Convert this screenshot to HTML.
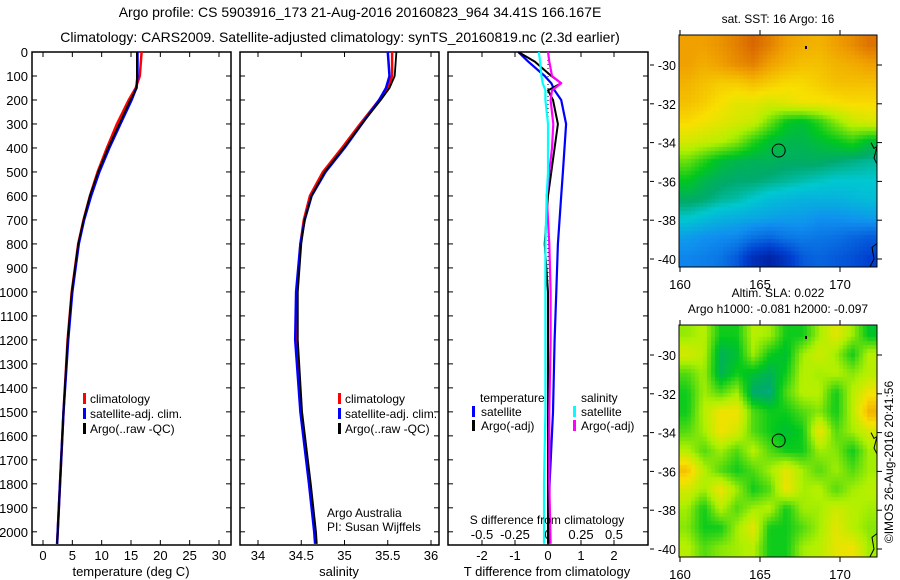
<!DOCTYPE html>
<html><head><meta charset="utf-8">
<style>
html,body{margin:0;padding:0;background:#fff;overflow:hidden;width:900px;height:580px;}
svg{display:block;font-family:"Liberation Sans",sans-serif;}
</style></head>
<body>
<svg id="fig" width="900" height="580" viewBox="0 0 900 580" xmlns="http://www.w3.org/2000/svg">
<text x="360" y="17" font-size="14" text-anchor="middle">Argo profile: CS 5903916_173 21-Aug-2016 20160823_964 34.41S 166.167E</text>
<text x="340" y="42" font-size="14" text-anchor="middle">Climatology: CARS2009. Satellite-adjusted climatology: synTS_20160819.nc (2.3d earlier)</text>
<g id="layer"></g>
<foreignObject x="679" y="35" width="198" height="232"><canvas xmlns="http://www.w3.org/1999/xhtml" id="sstc" width="198" height="232" style="display:block;width:198px;height:232px"></canvas></foreignObject>
<foreignObject x="679" y="325" width="198" height="232"><canvas xmlns="http://www.w3.org/1999/xhtml" id="slac" width="198" height="232" style="display:block;width:198px;height:232px"></canvas></foreignObject>
<g id="top"></g>
</svg>
<script>
// ---- data ----
const depths     = [0, 100, 150, 200, 300, 400, 500, 600, 700, 800, 1000, 1200, 1500, 1800, 2000, 2050];
const tempClim   = [16.8,16.5,15.8,14.6,12.6,10.9,9.3,8.0,6.9,6.0,4.9,4.2,3.5,2.9,2.5,2.4];
const tempSat    = [16.1,16.1,15.9,15.1,13.2,11.3,9.6,8.2,7.0,6.1,5.0,4.3,3.5,2.9,2.5,2.4];
const tempArgo   = [16.0,16.0,16.0,14.9,13.0,11.1,9.4,8.0,6.9,6.0,4.9,4.2,3.5,2.9,2.5,2.4];
const salClim    = [35.55,35.55,35.5,35.4,35.18,34.97,34.75,34.6,34.53,34.49,34.45,34.45,34.5,34.6,34.66,34.67];
const salSat     = [35.5,35.52,35.48,35.4,35.2,35.0,34.78,34.62,34.54,34.49,34.44,34.43,34.49,34.59,34.65,34.66];
const salArgo    = [35.6,35.58,35.52,35.42,35.2,34.99,34.77,34.62,34.54,34.5,34.46,34.46,34.51,34.61,34.67,34.68];
const dDepths    = [0, 40, 100, 130, 160, 200, 300, 400, 500, 600, 800, 1000, 1200, 1500, 1800, 2050];
const dTsat      = [-0.9,-0.6,-0.1,0.1,0.2,0.4,0.55,0.5,0.45,0.4,0.3,0.25,0.2,0.15,0.05,0.02];
const dTargo     = [-0.9,-0.4,0.1,0.4,0.0,0.15,0.3,0.2,0.1,0.0,-0.1,0.0,0.0,0.0,0.0,0.0];
const dSsat      = [-0.07,-0.06,-0.05,-0.04,-0.02,-0.02,0.0,0.0,0.0,-0.01,-0.02,-0.02,-0.02,-0.02,-0.03,-0.03];
const dSargo     = [0.0,0.01,0.03,0.1,0.03,0.02,0.04,0.03,0.01,-0.01,0.01,0.02,0.02,0.01,0.01,0.02];
const depthTicks = [0,100,200,300,400,500,600,700,800,900,1000,1100,1200,1300,1400,1500,1600,1700,1800,1900,2000];
const tempTicks  = [0,5,10,15,20,25,30];
const salTicks   = [34,34.5,35,35.5,36];
const salTickLabels = ["34","34.5","35","35.5","36"];
const dTTicks    = [-2,-1,0,1,2];
const dSTicks    = [-0.5,-0.25,0,0.25,0.5];
const dSTickLabels = ["-0.5","-0.25","0","0.25","0.5"];
const latTicks   = [-30,-32,-34,-36,-38,-40];
const lonTicks   = [160,165,170];
const argoLon = 166.167, argoLat = -34.41;
const sstGrid = [
[0.85,0.85,0.87,0.9,0.94,0.9,0.85,0.83,0.82,0.85,0.88,0.92],
[0.85,0.83,0.85,0.88,0.9,0.85,0.82,0.8,0.8,0.82,0.83,0.85],
[0.82,0.8,0.78,0.78,0.8,0.78,0.76,0.76,0.78,0.8,0.8,0.8],
[0.8,0.78,0.75,0.72,0.72,0.7,0.72,0.74,0.74,0.75,0.76,0.76],
[0.76,0.74,0.72,0.7,0.68,0.6,0.52,0.5,0.55,0.62,0.68,0.7],
[0.7,0.68,0.66,0.62,0.55,0.5,0.48,0.48,0.5,0.52,0.55,0.5],
[0.6,0.55,0.5,0.48,0.47,0.47,0.46,0.46,0.46,0.45,0.44,0.43],
[0.52,0.48,0.46,0.45,0.45,0.44,0.43,0.42,0.41,0.4,0.4,0.4],
[0.46,0.45,0.43,0.42,0.4,0.38,0.37,0.36,0.36,0.36,0.37,0.38],
[0.4,0.38,0.36,0.35,0.34,0.33,0.32,0.32,0.3,0.3,0.31,0.32],
[0.32,0.3,0.29,0.28,0.24,0.22,0.25,0.26,0.25,0.24,0.22,0.2],
[0.28,0.27,0.25,0.2,0.1,0.06,0.12,0.2,0.22,0.2,0.18,0.15]];
const slaGrid = [
[0.63,0.66,0.53,0.53,0.66,0.64,0.53,0.53,0.64,0.72,0.64,0.51],
[0.7,0.66,0.47,0.5,0.64,0.53,0.5,0.64,0.69,0.64,0.53,0.66],
[0.58,0.64,0.47,0.53,0.5,0.47,0.53,0.66,0.64,0.66,0.62,0.66],
[0.53,0.64,0.58,0.64,0.45,0.44,0.58,0.66,0.66,0.53,0.66,0.74],
[0.53,0.66,0.74,0.74,0.58,0.53,0.53,0.58,0.62,0.53,0.66,0.82],
[0.58,0.64,0.74,0.7,0.58,0.53,0.5,0.53,0.74,0.58,0.64,0.7],
[0.66,0.58,0.64,0.58,0.66,0.58,0.53,0.53,0.64,0.62,0.53,0.64],
[0.8,0.66,0.58,0.53,0.58,0.64,0.72,0.64,0.58,0.64,0.58,0.64],
[0.7,0.64,0.74,0.64,0.53,0.58,0.74,0.64,0.66,0.58,0.64,0.66],
[0.64,0.53,0.66,0.58,0.64,0.66,0.53,0.64,0.64,0.69,0.66,0.64],
[0.62,0.53,0.53,0.64,0.72,0.53,0.53,0.58,0.64,0.72,0.66,0.62],
[0.66,0.58,0.62,0.64,0.66,0.53,0.53,0.64,0.66,0.72,0.74,0.64]];

// ---- helpers ----
const NS="http://www.w3.org/2000/svg";
const layer=document.getElementById('layer');
const topL=document.getElementById('top');
function el(tag,attrs,parent){const e=document.createElementNS(NS,tag);for(const k in attrs)e.setAttribute(k,attrs[k]);(parent||layer).appendChild(e);return e;}
const Y0=52, Y1=545, D1=2055;
const yD=d=>Y0+d/D1*(Y1-Y0);
function lin(d0,d1,r0,r1){return v=>r0+(v-d0)/(d1-d0)*(r1-r0);}
const xT=lin(0,30,43,219);
const xS=lin(34,36,258,431);
const xDT=lin(0,2,548,614);
const xDS=v=>xDT(v*4);

function panel(x0,x1,name){
  const r=el('rect',{x:x0,y:Y0,width:x1-x0,height:Y1-Y0,fill:'none',stroke:'#000','stroke-width':1.5});
  
  
  depthTicks.forEach(d=>{
    el('line',{x1:x0,x2:x0+5,y1:yD(d),y2:yD(d),stroke:'#000'});
    el('line',{x1:x1,x2:x1-5,y1:yD(d),y2:yD(d),stroke:'#000'});
  });
}
function xticks(ticks,labels,sc,y,name){
  ticks.forEach((t,i)=>{
    el('line',{x1:sc(t),x2:sc(t),y1:Y1,y2:Y1-5,stroke:'#000'});
    el('line',{x1:sc(t),x2:sc(t),y1:Y0,y2:Y0+5,stroke:'#000'});
    const tx=el('text',{x:sc(t),y:y,'font-size':13,'text-anchor':'middle'});
    tx.textContent=labels[i];
    
    
  });
}
function series(xs,ds,sc,color,name,w){
  const pts=xs.map((v,i)=>sc(v).toFixed(1)+','+yD(ds[i]).toFixed(1)).join(' ');
  const p=el('polyline',{points:pts,fill:'none',stroke:color,'stroke-width':w||2.5,'stroke-linejoin':'round'});
  
  
}
function txt(x,y,s,size,name,anchor){
  const t=el('text',{x:x,y:y,'font-size':size||12,'text-anchor':anchor||'start'});
  t.textContent=s;
  
  
  return t;
}
function legBar(x,y,c){el('rect',{x:x,y:y-10,width:3,height:11,fill:c});}

// panel 1 temperature
panel(32,231,'temperature-panel');
depthTicks.forEach(d=>{const t=txt(28,yD(d)+5,String(d),13,'depth-tick-label','end');});
xticks(tempTicks,tempTicks.map(String),xT,560,'temperature-tick-label');
series(tempClim,depths,xT,'#f00','temperature-climatology-line');
series(tempSat,depths,xT,'#00f','temperature-satellite-line');
series(tempArgo,depths,xT,'#000','temperature-argo-line',1.8);
txt(131,576,'temperature (deg C)',13,'temperature-axis-title','middle');
legBar(83,403,'#f00');txt(90,403,'climatology',12,'legend-climatology');
legBar(83,418,'#00f');txt(90,418,'satellite-adj. clim.',12,'legend-satellite');
legBar(83,433,'#000');txt(90,433,'Argo(..raw -QC)',12,'legend-argo');

// panel 2 salinity
panel(240,439,'salinity-panel');
xticks(salTicks,salTickLabels,xS,560,'salinity-tick-label');
series(salClim,depths,xS,'#f00','salinity-climatology-line');
series(salSat,depths,xS,'#00f','salinity-satellite-line');
series(salArgo,depths,xS,'#000','salinity-argo-line',1.8);
txt(339,576,'salinity',13,'salinity-axis-title','middle');
legBar(338,403,'#f00');txt(345,403,'climatology',12,'legend-climatology-2');
legBar(338,418,'#00f');txt(345,418,'satellite-adj. clim.',12,'legend-satellite-2');
legBar(338,433,'#000');txt(345,433,'Argo(..raw -QC)',12,'legend-argo-2');
txt(327,517,'Argo Australia',12,'argo-australia-label');
txt(327,531,'PI: Susan Wijffels',12,'pi-label');

// panel 3 differences
panel(448,648,'difference-panel');
xticks(dTTicks,dTTicks.map(String),xDT,560,'t-difference-tick-label');
dSTicks.forEach((t,i)=>{const tx=txt(xDS(t),539,dSTickLabels[i],13,'s-difference-tick-label','middle');});
el('line',{x1:xDT(0),x2:xDT(0),y1:Y0,y2:Y1,stroke:'#000','stroke-dasharray':'1,3'});
series(dTsat,dDepths,xDT,'#00f','t-diff-satellite-line',2.2);
series(dTargo,dDepths,xDT,'#000','t-diff-argo-line',2);
series(dSargo,dDepths,xDS,'#f0f','s-diff-argo-line',2.2);
series(dSsat,dDepths,xDS,'#0ff','s-diff-satellite-line',2.2);
txt(547,524,'S difference from climatology',12,'s-difference-title','middle');
txt(547,576,'T difference from climatology',13,'t-difference-title','middle');
txt(480,402,'temperature',12,'legend-temperature-header');
legBar(472,416,'#00f');txt(481,416,'satellite',12,'legend-t-satellite');
legBar(472,430,'#000');txt(481,430,'Argo(-adj)',12,'legend-t-argo');
txt(581,402,'salinity',12,'legend-salinity-header');
legBar(573,416,'#0ff');txt(581,416,'satellite',12,'legend-s-satellite');
legBar(573,430,'#f0f');txt(581,430,'Argo(-adj)',12,'legend-s-argo');

// ---- maps ----
const stops=[[0,[0,16,138]],[0.15,[0,64,208]],[0.3,[16,144,240]],[0.4,[0,200,208]],[0.45,[0,170,110]],[0.52,[0,200,30]],[0.65,[176,240,0]],[0.75,[248,224,0]],[0.85,[240,160,0]],[1,[200,64,0]]];
function cmap(v){for(let i=1;i<stops.length;i++){if(v<=stops[i][0]){const a=stops[i-1],b=stops[i],f=(v-a[0])/(b[0]-a[0]);return a[1].map((c,k)=>Math.round(c+(b[1][k]-c)*f));}}return stops[stops.length-1][1];}
function drawMap(id,grid){
  const c=document.getElementById(id),ctx=c.getContext('2d');
  const R=grid.length,C=grid[0].length,cw=198/C,ch=232/R;
  for(let py=0;py<232;py+=4)for(let px=0;px<198;px+=4){
    const gx=Math.min(Math.max((px+2)/cw-0.5,0),C-1),gy=Math.min(Math.max((py+2)/ch-0.5,0),R-1);
    const x0=Math.floor(gx),y0=Math.floor(gy),x1=Math.min(x0+1,C-1),y1=Math.min(y0+1,R-1),fx=gx-x0,fy=gy-y0;
    const v=(grid[y0][x0]*(1-fx)+grid[y0][x1]*fx)*(1-fy)+(grid[y1][x0]*(1-fx)+grid[y1][x1]*fx)*fy;
    const col=cmap(v);ctx.fillStyle='rgb('+col.join(',')+')';ctx.fillRect(px,py,4,4);
  }
}
drawMap('sstc',sstGrid);drawMap('slac',slaGrid);
const xLon=lin(160,170,680,840);
function mapFrame(top,name,title1,title2){
  const yLat=lin(-30,-40,top+30,top+224);
  const r=el('rect',{x:679,y:top,width:198,height:232,fill:'none',stroke:'#000','stroke-width':1},topL);
  
  
  latTicks.forEach(l=>{
    el('line',{x1:877,x2:882,y1:yLat(l),y2:yLat(l),stroke:'#000'},topL);
    el('line',{x1:650,x2:654,y1:yLat(l),y2:yLat(l),stroke:'#000'},topL);
    const t=el('text',{x:676,y:yLat(l)+5,'font-size':12.5,'text-anchor':'end'},topL);t.textContent=String(l);
    
    
  });
  lonTicks.forEach(l=>{
    el('line',{x1:xLon(l),x2:xLon(l),y1:top,y2:top-5,stroke:'#000'},topL);
    el('line',{x1:xLon(l),x2:xLon(l),y1:top+232,y2:top+237,stroke:'#000'},topL);
    const t=el('text',{x:xLon(l),y:top+254,'font-size':13,'text-anchor':'middle'},topL);t.textContent=String(l);
    
    
  });
  const c=el('circle',{cx:xLon(argoLon),cy:yLat(argoLat),r:6.5,fill:'none',stroke:'#000','stroke-width':1},topL);
  
  
  el('polyline',{points:'871,'+(yLat(-34))+' 874,'+(yLat(-34.3))+' 877,'+(yLat(-34.2))+' 874,'+(yLat(-34.8))+' 877,'+(yLat(-35.1)),fill:'none',stroke:'#000'},topL);
  el('polyline',{points:'877,'+(yLat(-39.2))+' 872,'+(yLat(-39.4))+' 874,'+(yLat(-40))+' 870,'+(yLat(-40.4)),fill:'none',stroke:'#000'},topL);
  el('rect',{x:805,y:top+11,width:2,height:3,fill:'#000'},topL);
  let t=el('text',{x:778,y:top-(title2?28:12),'font-size':12,'text-anchor':'middle'},topL);t.textContent=title1;
  
  
  if(title2){t=el('text',{x:778,y:top-12,'font-size':12,'text-anchor':'middle'},topL);t.textContent=title2;
  
  }
}
mapFrame(35,'sst-map-frame','sat. SST: 16 Argo: 16');
mapFrame(325,'sla-map-frame','Altim. SLA: 0.022','Argo h1000: -0.081 h2000: -0.097');
const cr=el('text',{x:0,y:0,'font-size':12,'text-anchor':'middle',transform:'translate(893,462) rotate(-90)'},topL);
cr.textContent='©IMOS 26-Aug-2016 20:41:56';


</script>
</body></html>
